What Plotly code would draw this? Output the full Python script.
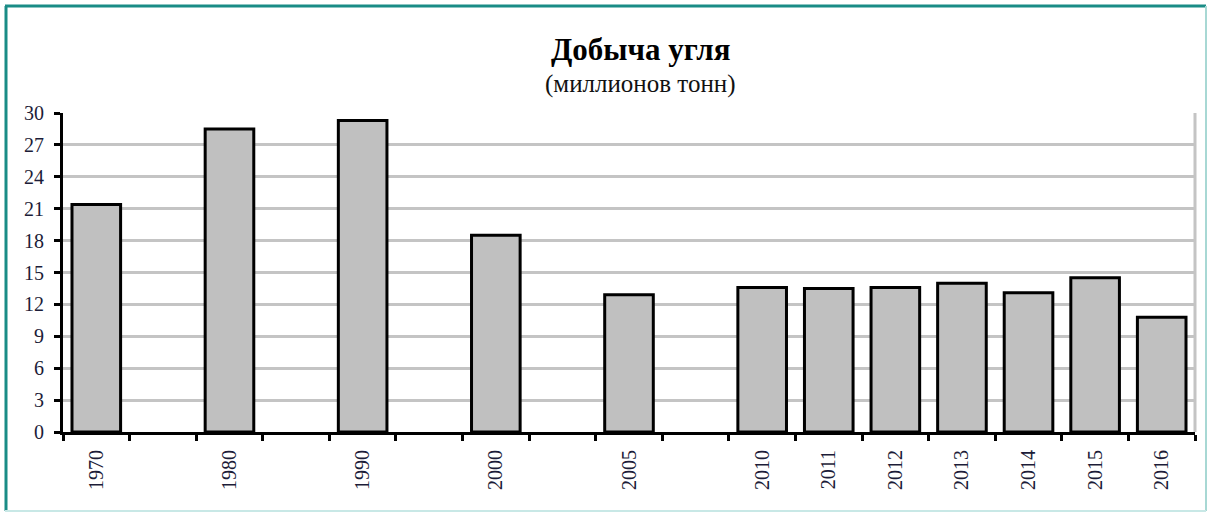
import plotly.graph_objects as go

categories = ["1970", " ", "1980", "  ", "1990", "   ", "2000", "    ", "2005", "     ",
              "2010", "2011", "2012", "2013", "2014", "2015", "2016"]
values = [21.4, None, 28.5, None, 29.3, None, 18.5, None, 12.9, None,
          13.6, 13.5, 13.6, 14.0, 13.1, 14.5, 10.8]
y_ticks = [0, 3, 6, 9, 12, 15, 18, 21, 24, 27, 30]

FONT = "Liberation Serif, Times New Roman, serif"
TICKCOL = "#1c1c38"

fig = go.Figure()
fig.add_trace(go.Bar(
    x=categories, y=values,
    marker=dict(color="#c0c0c0", line=dict(color="black", width=3)),
    hoverinfo="x+y",
))

W, H = 1208, 513
L, R, T, B = 63, 13, 113, 81
pw, ph = W - L - R, H - T - B

def px(x):
    return (x - L) / pw

def py(y):
    return (H - B - y) / ph

fig.update_layout(
    width=W, height=H,
    margin=dict(l=L, r=R, t=T, b=B),
    paper_bgcolor="white", plot_bgcolor="white",
    bargap=0.27,
    showlegend=False,
    font=dict(family=FONT, size=20, color=TICKCOL),
    xaxis=dict(
        type="category",
        categoryorder="array", categoryarray=categories,
        tickson="boundaries", ticks="outside", ticklen=6, tickwidth=3, tickcolor="black",
        showline=True, linecolor="black", linewidth=3,
        tickangle=-90, tickfont=dict(family=FONT, size=20, color=TICKCOL),
        ticklabelstandoff=7,
        showgrid=False,
    ),
    yaxis=dict(
        range=[0, 30], tickvals=y_ticks,
        ticks="outside", ticklen=6, tickwidth=3, tickcolor="black",
        showline=True, linecolor="black", linewidth=3,
        showgrid=True, gridcolor="#c4c4c4", gridwidth=3,
        zeroline=False,
        ticklabelstandoff=6,
        tickfont=dict(family=FONT, size=20, color=TICKCOL),
    ),
    shapes=[
        # right plot border
        dict(type="line", xref="x domain", yref="y domain", x0=1, x1=1, y0=0, y1=1,
             line=dict(color="#c4c4c4", width=3), layer="below"),
        # outer teal frame
        dict(type="line", xref="paper", yref="paper", x0=px(5), x1=px(1206), y0=py(6), y1=py(6),
             line=dict(color="#1a8c86", width=3)),
        dict(type="line", xref="paper", yref="paper", x0=px(6), x1=px(6), y0=py(6), y1=py(511),
             line=dict(color="#1a8c86", width=3)),
        dict(type="line", xref="paper", yref="paper", x0=px(1206), x1=px(1206), y0=py(6), y1=py(511),
             line=dict(color="#a8d8d4", width=2)),
        dict(type="line", xref="paper", yref="paper", x0=px(5), x1=px(1206), y0=py(511), y1=py(511),
             line=dict(color="#c8e8e6", width=2)),
    ],
    annotations=[
        dict(text="<b>Добыча угля</b>", xref="paper", yref="paper", x=px(640), y=py(50),
             showarrow=False, xanchor="center", yanchor="middle",
             font=dict(family=FONT, size=31, color="black")),
        dict(text="(миллионов тонн)", xref="paper", yref="paper", x=px(640), y=py(84),
             showarrow=False, xanchor="center", yanchor="middle",
             font=dict(family=FONT, size=25, color="#111")),
    ],
)

fig.write_html("out.html", config={"displayModeBar": False},
               post_script="document.body.style.margin='0';document.body.style.overflow='hidden';")
